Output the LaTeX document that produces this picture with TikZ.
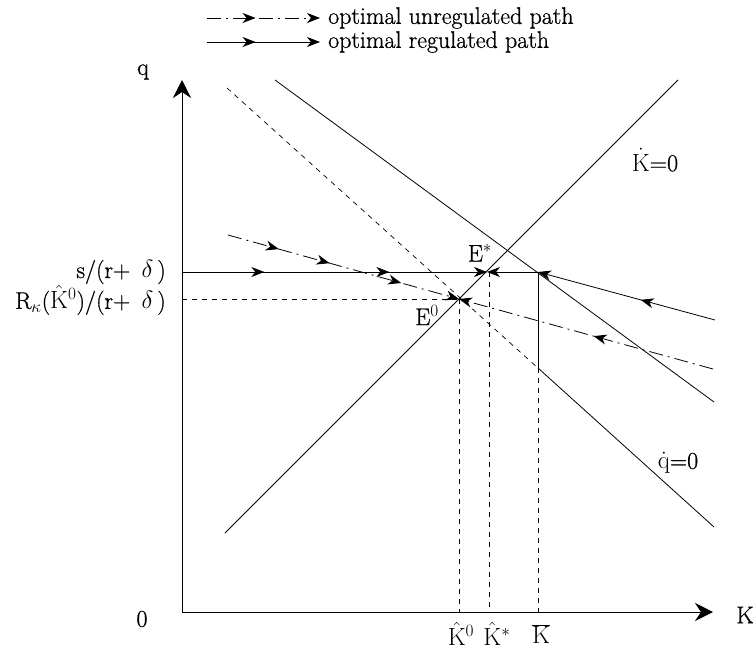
\documentclass[tikz,border=0pt]{standalone}
\usepackage[no-math]{fontspec}
\setmainfont{Latin Modern Roman}[FakeBold=0.8]
\usetikzlibrary{arrows.meta,decorations.markings,calc}
\newcommand\pathtip{\arrow[line width=0.8pt]{Stealth[length=13pt,width=10pt,inset=4pt]}}
\tikzset{
  lbl/.style={font=\fontsize{24}{27}\selectfont, inner sep=0pt},
  thinline/.style={line width=0.8pt},
  dashline/.style={line width=0.7pt, dash pattern=on 5pt off 5pt},
  dashdot/.style={line width=0.8pt, dash pattern=on 14pt off 5pt on 2pt off 5pt},
  endtip/.style={-{Stealth[length=13pt,width=10pt,inset=4pt]}},
  axistip/.style={line width=0.8pt, -{Stealth[length=18pt,width=18pt,inset=6pt]}},
  arrA/.style={postaction={decorate}, decoration={markings, mark=at position #1 with {\pathtip}}},
  arrB/.style 2 args={postaction={decorate}, decoration={markings,
      mark=at position #1 with {\pathtip}, mark=at position #2 with {\pathtip}}},
  arrC/.style n args={3}{postaction={decorate}, decoration={markings,
      mark=at position #1 with {\pathtip}, mark=at position #2 with {\pathtip},
      mark=at position #3 with {\pathtip}}},
}
\begin{document}
\begin{tikzpicture}[x=1pt,y=-1pt]
\useasboundingbox (0,0) rectangle (756,654);
% key points
\coordinate (O) at (182,612);
\coordinate (Ytop) at (182,80);
\coordinate (Xend) at (713,612);
\coordinate (Kd1) at (225,533);
\coordinate (Kd2) at (678,80);
\coordinate (Qu1) at (275,80);
\coordinate (Qu2) at (714,402);
\coordinate (Ql1) at (227,88);
\coordinate (Ql2) at (714,527);
\coordinate (E0) at (459,299);
\coordinate (Es) at (487,272);
\coordinate (Esd) at (489,272);
\coordinate (C) at (538,272);
\coordinate (Cb) at (538,368);
\coordinate (Ys) at (182,272);
\coordinate (Y0) at (182,299);
\coordinate (X0) at (459,612);
\coordinate (Xs) at (489,612);
\coordinate (Xb) at (538,612);
\coordinate (U1) at (228,235);
\coordinate (U2) at (713,369);
\coordinate (R2) at (715,320);
% legend
\coordinate (L1a) at (207,18);
\coordinate (L1b) at (320,18);
\coordinate (L2a) at (207,42);
\coordinate (L2b) at (320,42);
\draw[dashdot, endtip, arrA=0.43] (L1a) -- (L1b);
\draw[thinline, endtip, arrA=0.43] (L2a) -- (L2b);
\node[lbl, anchor=west] (leg1) at (328,18) {optimal unregulated path};
\node[lbl, anchor=west] (leg2) at (328,42) {optimal regulated path};
% axes
\draw[axistip] (O) -- (Ytop);
\draw[axistip] (O) -- (Xend);
% loci
\draw[thinline] (Kd1) -- (Kd2);
\draw[thinline] (Qu1) -- (Qu2);
\draw[dashline] (Ql1) -- (Cb);
\draw[thinline] (Cb) -- (Ql2);
% dashed guides
\draw[dashline] (Y0) -- (E0);
\draw[dashline] (E0) -- (X0);
\draw[dashline] (Esd) -- (Xs);
\draw[dashline] (Cb) -- (Xb);
\draw[thinline] (C) -- (Cb);
% regulated path
\draw[thinline, endtip, arrB={0.27}{0.68}] (Ys) -- (Es);
\draw[thinline, endtip, arrA=0.42] (R2) -- (C);
\draw[thinline, endtip] (C) -- (Es);
% unregulated path
\draw[dashdot, endtip, arrC={0.22}{0.44}{0.75}] (U1) -- (E0);
\draw[dashdot, endtip, arrA=0.47] (U2) -- (E0);
% labels
\node[lbl] (q) at (143,72) {q};
\node[lbl] (zero) at (142,619) {0};
\node[lbl] (K) at (745,615) {K};
\node[lbl, anchor=east] (ls) at (166,272) {s/(r+\, $\delta$\,)};
\node[lbl, anchor=east] (lr) at (166,300) {R$_\kappa$($\hat{\mathrm{K}}^0$)/(r+\, $\delta$\,)};
\node[lbl] (lE0) at (427,315) {E$^0$};
\node[lbl] (lEs) at (480,253) {E$^*$};
\node[lbl] (lK0) at (461,634) {$\hat{\mathrm{K}}^0$};
\node[lbl] (lKs) at (497,634) {$\hat{\mathrm{K}}^*$};
\node[lbl] (lKb) at (541,634) {$\overline{\mathrm{K}}$};
\node[lbl] (lKd) at (655,160) {$\dot{\mathrm{K}}$=0};
\node[lbl] (lqd) at (678,463) {$\dot{\mathrm{q}}$=0};
\end{tikzpicture}
\end{document}
